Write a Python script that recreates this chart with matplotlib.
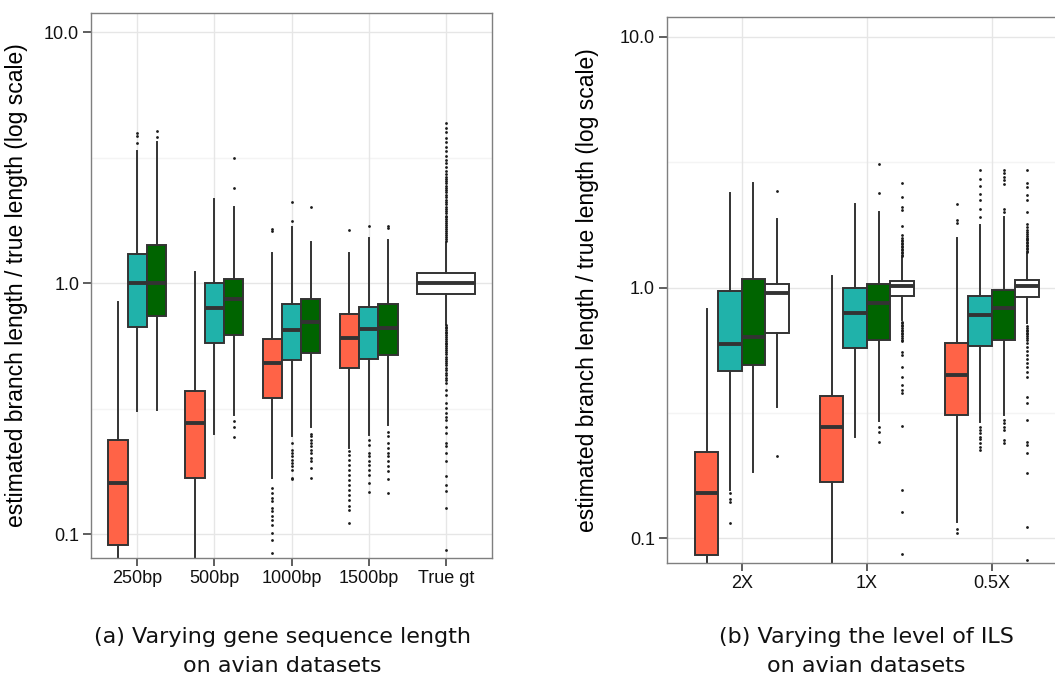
import matplotlib
matplotlib.use("Agg")
import matplotlib.pyplot as plt

# ---------------- data ----------------
# five-number summaries: [whisker low, q1, median, q3, whisker high]
cats_a = ["250bp", "500bp", "1000bp", "1500bp", "True gt"]
a_red = [[0.07, 0.090, 0.159, 0.236, 0.845],
         [0.06, 0.167, 0.277, 0.370, 1.11],
         [0.167, 0.348, 0.479, 0.598, 1.32],
         [0.220, 0.457, 0.607, 0.752, 1.32],
         None]
a_teal = [[0.31, 0.671, 1.0, 1.31, 3.37],
          [0.25, 0.58, 0.795, 1.0, 2.17],
          [0.247, 0.495, 0.651, 0.827, 1.67],
          [0.249, 0.499, 0.656, 0.80, 1.51],
          None]
a_green = [[0.313, 0.743, 1.0, 1.42, 3.67],
           [0.297, 0.621, 0.863, 1.04, 2.01],
           [0.268, 0.529, 0.697, 0.863, 1.465],
           [0.271, 0.518, 0.665, 0.827, 1.49],
           None]
a_white = [None, None, None, None,
           [0.689, 0.909, 1.0, 1.10, 1.45]]

a_red_out = [[], [],
             [1.65, 1.61, 0.1525, 0.1457, 0.139, 0.135, 0.127, 0.123, 0.1175,
              0.114, 0.109, 0.101, 0.0949, 0.084],
             [1.63, 0.2134, 0.207, 0.198, 0.189, 0.1805, 0.172, 0.1646, 0.157,
              0.150, 0.1434, 0.137, 0.129, 0.125, 0.111],
             []]
a_teal_out = [[3.98, 3.86, 3.63], [],
              [1.77, 2.1, 0.2305, 0.217, 0.211, 0.204, 0.198, 0.192, 0.186,
               0.180, 0.167, 0.165],
              [1.69, 0.2375, 0.227, 0.210, 0.204, 0.1947, 0.189, 0.180, 0.172,
               0.16, 0.1465],
              []]
a_green_out = [[4.05, 3.82],
               [2.39, 3.14, 0.281, 0.268, 0.243],
               [2.02, 0.251, 0.245, 0.2375, 0.2305, 0.2235, 0.217, 0.211, 0.201,
                0.195, 0.183, 0.167],
               [1.69, 1.66, 0.256, 0.245, 0.23, 0.22, 0.211, 0.204, 0.195, 0.186,
                0.178, 0.165, 0.146],
               []]
a_white_out = [[], [], [], [],
               [1.47, 1.5, 1.53, 1.56, 1.59, 1.62, 1.65, 1.68, 1.71, 1.74, 1.77,
                1.8, 1.83, 1.86, 1.9, 1.94, 1.98, 2.02, 2.06, 2.1, 2.15, 2.2,
                2.25, 2.3, 2.35, 2.4, 2.45, 2.5, 2.55, 2.6, 2.66, 2.72, 2.8, 2.9,
                3.0, 3.1, 3.2, 3.35, 3.5, 3.65, 3.8, 4.0, 4.15, 4.34,
                0.68, 0.67, 0.66, 0.65, 0.64, 0.63, 0.62, 0.61, 0.6, 0.59, 0.58,
                0.57, 0.56, 0.55, 0.54, 0.53, 0.52, 0.51, 0.5, 0.49, 0.48, 0.47,
                0.46, 0.45, 0.44, 0.43, 0.42, 0.412, 0.4, 0.376, 0.359, 0.333,
                0.318, 0.303, 0.294, 0.285, 0.268, 0.252, 0.2305, 0.2234, 0.21,
                0.1946, 0.1697, 0.157, 0.148, 0.127, 0.0866]]

cats_b = ["2X", "1X", "0.5X"]
b_red = [[0.07, 0.086, 0.152, 0.220, 0.819],
         [0.07, 0.167, 0.277, 0.369, 1.11],
         [0.1165, 0.31, 0.447, 0.60, 1.58]]
b_teal = [[0.156, 0.465, 0.598, 0.969, 2.38],
          [0.253, 0.574, 0.792, 0.994, 2.16],
          [0.29, 0.584, 0.776, 0.923, 1.78]]
b_green = [[0.183, 0.49, 0.636, 1.086, 2.61],
           [0.294, 0.617, 0.864, 1.03, 2.0],
           [0.31, 0.617, 0.825, 0.975, 1.91]]
b_white = [[0.333, 0.656, 0.955, 1.033, 1.87],
           [0.741, 0.926, 1.01, 1.06, 1.31],
           [0.719, 0.917, 1.01, 1.076, 1.36]]

b_red_out = [[], [], [2.15, 1.85, 1.80, 0.1086, 0.1047]]
b_teal_out = [[0.151, 0.144, 0.140, 0.115], [],
              [2.95, 2.72, 2.53, 2.37, 2.23, 2.05, 1.91,
               0.279, 0.27, 0.262, 0.254, 0.248, 0.239, 0.232, 0.225]]
b_green_out = [[], [2.38, 3.12, 0.278, 0.266, 0.243],
               [2.06, 2.0, 2.95, 2.85, 2.76, 2.68, 2.59,
                0.296, 0.287, 0.279, 0.270, 0.2465, 0.239]]
b_white_out = [[2.42, 0.213],
               [1.33, 1.35, 1.37, 1.39, 1.41, 1.43, 1.45, 1.47, 1.49, 1.51, 1.53,
                1.55, 1.58, 1.62, 1.76, 2.03, 2.09, 2.3, 2.6,
                0.73, 0.72, 0.71, 0.70, 0.69, 0.68, 0.67, 0.66, 0.65, 0.64, 0.63,
                0.62, 0.61, 0.554, 0.537, 0.483, 0.44, 0.408, 0.39, 0.378, 0.281,
                0.156, 0.127, 0.0863],
               [1.38, 1.40, 1.42, 1.44, 1.46, 1.48, 1.5, 1.52, 1.54, 1.56, 1.58,
                1.61, 1.64, 1.67, 1.7, 1.74, 1.79, 2.0, 2.23, 2.33, 2.52, 2.61,
                2.95,
                0.70, 0.69, 0.68, 0.67, 0.66, 0.65, 0.64, 0.63, 0.62, 0.6, 0.58,
                0.56, 0.54, 0.52, 0.5, 0.48, 0.46, 0.44, 0.367, 0.345, 0.296,
                0.243, 0.235, 0.218, 0.1815, 0.1106, 0.082]]

colors = {"red": "#FF6347", "teal": "#20B2AA", "green": "#006400", "white": "#FFFFFF"}

# ---------------- figure ----------------
W, H = 1055, 677
plt.rcParams["font.family"] = ["Liberation Sans", "DejaVu Sans"]
fig = plt.figure(figsize=(W / 100, H / 100), dpi=100)

EDGE = "#333333"
BOXKW = dict(patch_artist=True, showcaps=False, manage_ticks=False,
             medianprops=dict(color=EDGE, linewidth=2.8, solid_capstyle="butt"),
             whiskerprops=dict(color=EDGE, linewidth=1.4),
             flierprops=dict(marker="o", markersize=2.0, markerfacecolor="#1a1a1a",
                             markeredgecolor="none", linestyle="none"))


def make_axes(rect, ylim, cats, labx):
    ncat = len(cats)
    ax = fig.add_axes(rect)
    ax.set_yscale("log")
    ax.set_ylim(*ylim)
    ax.set_xlim(0.4, ncat + 0.6)
    ax.set_axisbelow(True)
    for yv in [0.1, 1.0, 10.0]:
        ax.axhline(yv, color="#E6E6E6", lw=1.0, zorder=0)
    for yv in [10 ** -0.5, 10 ** 0.5]:
        ax.axhline(yv, color="#F4F4F4", lw=1.0, zorder=0)
    for xv in range(1, ncat + 1):
        ax.axvline(xv, color="#E6E6E6", lw=1.0, zorder=0)
    ax.set_yticks([0.1, 1.0, 10.0])
    ax.set_yticklabels(["0.1", "1.0", "10.0"])
    ax.yaxis.set_minor_locator(matplotlib.ticker.NullLocator())
    ax.set_xticks(range(1, ncat + 1))
    ax.set_xticklabels(cats)
    ax.tick_params(axis="both", which="major", length=5.5, width=1.1,
                   color="#333333", labelsize=13, pad=3, labelcolor="#111111")
    for s in ax.spines.values():
        s.set_color("#7F7F7F")
        s.set_linewidth(1.0)
    ax.set_ylabel("estimated branch length / true length (log scale)", fontsize=16.5)
    ax.yaxis.set_label_coords(labx, 0.5)
    return ax


def draw(ax, series, outs, names, offsets, width):
    for sname, summ, out, off in zip(names, series, outs, offsets):
        for i, s in enumerate(summ):
            if s is None:
                continue
            st = dict(whislo=s[0], q1=s[1], med=s[2], q3=s[3], whishi=s[4],
                      fliers=out[i])
            ax.bxp([st], positions=[i + 1 + off], widths=[width],
                   boxprops=dict(facecolor=colors[sname], edgecolor=EDGE, linewidth=1.4),
                   **BOXKW)


# panel (a)
ax1 = make_axes([91 / W, 1 - 557.7 / H, 401 / W, (557.7 - 13.3) / H],
                (10 ** -1.0944, 10 ** 1.0757), cats_a, -0.158)
draw(ax1, [a_red, a_teal, a_green], [a_red_out, a_teal_out, a_green_out],
     ["red", "teal", "green"], [-0.25, 0.0, 0.25], 0.25)
draw(ax1, [a_white], [a_white_out], ["white"], [0.0], 0.75)

# panel (b)
ax2 = make_axes([666.7 / W, 1 - 563 / H, (1067 - 666.7) / W, (563 - 17.3) / H],
                (10 ** -1.0984, 10 ** 1.0773), cats_b, -0.17)
draw(ax2, [b_red, b_teal, b_green, b_white],
     [b_red_out, b_teal_out, b_green_out, b_white_out],
     ["red", "teal", "green", "white"],
     [-0.28125, -0.09375, 0.09375, 0.28125], 0.1875)

fig.text(282 / W, 1 - 627 / H, "(a) Varying gene sequence length\non avian datasets",
         ha="center", va="top", fontsize=16, family="DejaVu Sans", linespacing=1.55,
         multialignment="center", color="#111111")
fig.text(866 / W, 1 - 627 / H, "(b) Varying the level of ILS\non avian datasets",
         ha="center", va="top", fontsize=16, family="DejaVu Sans", linespacing=1.55,
         multialignment="center", color="#111111")

fig.savefig("out.png", dpi=100)
